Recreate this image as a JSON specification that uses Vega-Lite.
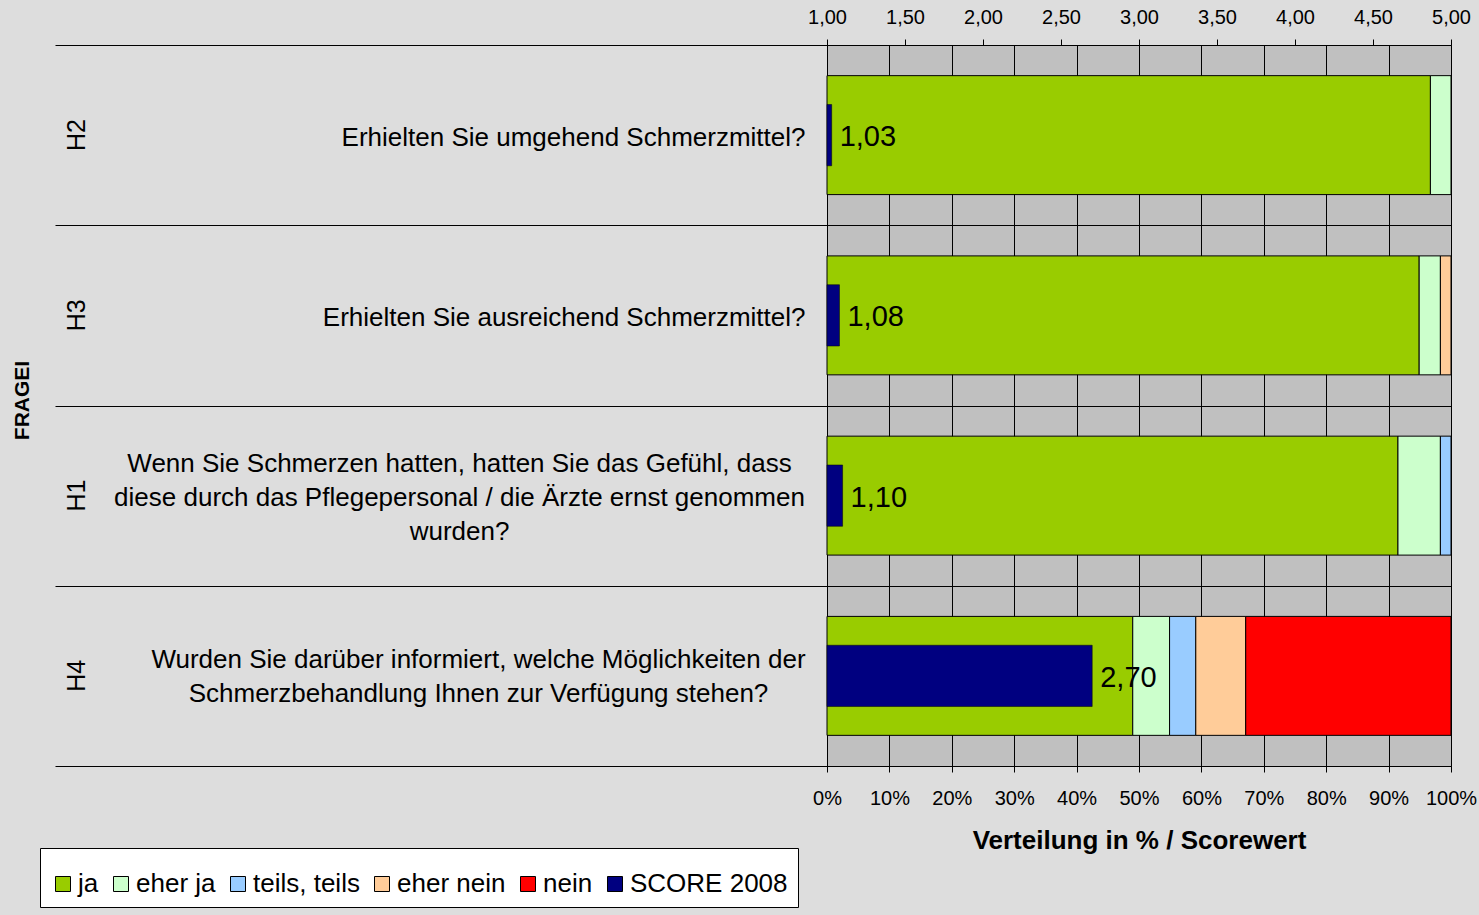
{
  "$schema": "https://vega.github.io/schema/vega-lite/v6.json",
  "width": 624,
  "height": 721,
  "autosize": {"type": "none"},
  "padding": {"left": 827, "top": 45, "right": 28, "bottom": 149},
  "background": "#dddddd",
  "config": {
    "font": "Liberation Sans",
    "view": {"fill": "#c0c0c0", "stroke": "#808080", "strokeWidth": 1},
    "locale": {"number": {"decimal": ",", "thousands": ".", "grouping": [3], "currency": ["", " €"]}},
    "axis": {
      "labelFont": "Liberation Sans",
      "titleFont": "Liberation Sans",
      "labelColor": "black",
      "titleColor": "black",
      "domainColor": "black",
      "tickColor": "black",
      "gridColor": "black",
      "gridOpacity": 1,
      "labelOverlap": false,
      "labelFlush": false,
      "labelBound": false
    }
  },
  "datasets": {
    "verteilung": [
      {"code": "H2", "frage": "Erhielten Sie umgehend Schmerzmittel?", "kategorie": "ja", "stufe": 1, "anteil": 96.7},
      {"code": "H2", "frage": "Erhielten Sie umgehend Schmerzmittel?", "kategorie": "eher ja", "stufe": 2, "anteil": 3.3},
      {"code": "H3", "frage": "Erhielten Sie ausreichend Schmerzmittel?", "kategorie": "ja", "stufe": 1, "anteil": 94.9},
      {"code": "H3", "frage": "Erhielten Sie ausreichend Schmerzmittel?", "kategorie": "eher ja", "stufe": 2, "anteil": 3.4},
      {"code": "H3", "frage": "Erhielten Sie ausreichend Schmerzmittel?", "kategorie": "eher nein", "stufe": 4, "anteil": 1.7},
      {"code": "H1", "frage": "Wenn Sie Schmerzen hatten, hatten Sie das Gefühl, dass\ndiese durch das Pflegepersonal / die Ärzte ernst genommen\nwurden?", "kategorie": "ja", "stufe": 1, "anteil": 91.5},
      {"code": "H1", "frage": "Wenn Sie Schmerzen hatten, hatten Sie das Gefühl, dass\ndiese durch das Pflegepersonal / die Ärzte ernst genommen\nwurden?", "kategorie": "eher ja", "stufe": 2, "anteil": 6.8},
      {"code": "H1", "frage": "Wenn Sie Schmerzen hatten, hatten Sie das Gefühl, dass\ndiese durch das Pflegepersonal / die Ärzte ernst genommen\nwurden?", "kategorie": "teils, teils", "stufe": 3, "anteil": 1.7},
      {"code": "H4", "frage": "Wurden Sie darüber informiert, welche Möglichkeiten der\nSchmerzbehandlung Ihnen zur Verfügung stehen?", "kategorie": "ja", "stufe": 1, "anteil": 49.0},
      {"code": "H4", "frage": "Wurden Sie darüber informiert, welche Möglichkeiten der\nSchmerzbehandlung Ihnen zur Verfügung stehen?", "kategorie": "eher ja", "stufe": 2, "anteil": 5.9},
      {"code": "H4", "frage": "Wurden Sie darüber informiert, welche Möglichkeiten der\nSchmerzbehandlung Ihnen zur Verfügung stehen?", "kategorie": "teils, teils", "stufe": 3, "anteil": 4.2},
      {"code": "H4", "frage": "Wurden Sie darüber informiert, welche Möglichkeiten der\nSchmerzbehandlung Ihnen zur Verfügung stehen?", "kategorie": "eher nein", "stufe": 4, "anteil": 8.0},
      {"code": "H4", "frage": "Wurden Sie darüber informiert, welche Möglichkeiten der\nSchmerzbehandlung Ihnen zur Verfügung stehen?", "kategorie": "nein", "stufe": 5, "anteil": 32.9}
    ],
    "score": [
      {"code": "H2", "serie": "SCORE 2008", "score": 1.03},
      {"code": "H3", "serie": "SCORE 2008", "score": 1.08},
      {"code": "H1", "serie": "SCORE 2008", "score": 1.10},
      {"code": "H4", "serie": "SCORE 2008", "score": 2.70}
    ]
  },
  "layer": [
    {
      "data": {"name": "verteilung"},
      "mark": {"type": "bar", "stroke": "black", "strokeWidth": 1, "height": {"band": 0.66}},
      "encoding": {
        "y": {
          "field": "frage",
          "type": "nominal",
          "sort": [
            "Erhielten Sie umgehend Schmerzmittel?",
            "Erhielten Sie ausreichend Schmerzmittel?",
            "Wenn Sie Schmerzen hatten, hatten Sie das Gefühl, dass\ndiese durch das Pflegepersonal / die Ärzte ernst genommen\nwurden?",
            "Wurden Sie darüber informiert, welche Möglichkeiten der\nSchmerzbehandlung Ihnen zur Verfügung stehen?"
          ],
          "scale": {"paddingInner": 0, "paddingOuter": 0},
          "axis": {
            "orient": "left",
            "title": "FRAGEI",
            "titleFontSize": 21,
            "titleFontWeight": "bold",
            "titleX": -805,
            "titleY": 355,
            "titleAngle": -90,
            "titleAlign": "center",
            "titleBaseline": "middle",
            "labelExpr": "split(datum.label, '\\n')",
            "labelFontSize": 26,
            "labelLineHeight": 34,
            "labelLimit": 800,
            "labelPadding": {
              "condition": [
                {"test": "length(split(datum.label, '\\n')) == 3", "value": -404},
                {"test": "length(split(datum.label, '\\n')) == 2", "value": -423}
              ],
              "value": -750
            },
            "labelAlign": {
              "condition": {"test": "length(split(datum.label, '\\n')) > 1", "value": "center"},
              "value": "right"
            },
            "labelOffset": {
              "condition": [
                {"test": "length(split(datum.label, '\\n')) == 3", "value": -32},
                {"test": "length(split(datum.label, '\\n')) == 2", "value": -16}
              ],
              "value": 2
            },
            "labelBaseline": "middle",
            "tickBand": "extent",
            "tickSize": 772,
            "ticks": true,
            "grid": true,
            "domain": true
          }
        },
        "x": {
          "field": "anteil",
          "type": "quantitative",
          "stack": "normalize",
          "scale": {"domain": [0, 1], "nice": false},
          "axis": {
            "orient": "bottom",
            "values": [0, 0.1, 0.2, 0.3, 0.4, 0.5, 0.6, 0.7, 0.8, 0.9, 1],
            "format": ".0%",
            "grid": true,
            "tickSize": 6,
            "labelFontSize": 20,
            "labelPadding": 16,
            "title": "Verteilung in % / Scorewert",
            "titleFontSize": 26,
            "titleFontWeight": "bold",
            "titlePadding": 19
          }
        },
        "order": {"field": "stufe", "type": "quantitative"},
        "color": {
          "field": "kategorie",
          "type": "nominal",
          "scale": {
            "domain": ["ja", "eher ja", "teils, teils", "eher nein", "nein", "SCORE 2008"],
            "range": ["#99cc00", "#ccffcc", "#99ccff", "#ffcc99", "#ff0000", "#000080"]
          },
          "legend": {
            "orient": "none",
            "legendX": -787,
            "legendY": 803,
            "direction": "horizontal",
            "title": " ",
            "titleFontSize": 9,
            "titlePadding": 4,
            "fillColor": "white",
            "strokeColor": "black",
            "padding": 10,
            "symbolType": "square",
            "symbolSize": 225,
            "symbolStrokeColor": "black",
            "symbolStrokeWidth": 1,
            "symbolOpacity": 1,
            "labelFontSize": 26,
            "labelFont": "Liberation Sans",
            "labelColor": "black",
            "labelOffset": 2,
            "columnPadding": 9,
            "labelLimit": 300
          }
        }
      }
    },
    {
      "data": {"name": "score"},
      "layer": [
        {
          "mark": {"type": "bar", "height": {"band": 0.34}, "stroke": "black", "strokeWidth": 0.5},
          "encoding": {
            "y": {
              "field": "code",
              "type": "nominal",
              "sort": ["H2", "H3", "H1", "H4"],
              "scale": {"paddingInner": 0, "paddingOuter": 0},
              "axis": {
                "orient": "left",
                "title": null,
                "ticks": false,
                "domain": false,
                "grid": false,
                "labelAngle": -90,
                "labelAlign": "center",
                "labelBaseline": "middle",
                "labelPadding": 751,
                "labelFontSize": 25
              }
            },
            "x": {
              "field": "score",
              "type": "quantitative",
              "scale": {"domain": [1, 5], "nice": false, "zero": false},
              "axis": {
                "orient": "top",
                "values": [1, 1.5, 2, 2.5, 3, 3.5, 4, 4.5, 5],
                "format": ".2f",
                "grid": false,
                "tickSize": 6,
                "labelFontSize": 20,
                "labelPadding": 12,
                "title": null,
                "domain": true
              }
            },
            "x2": {"datum": 1},
            "color": {"field": "serie", "type": "nominal"}
          }
        },
        {
          "mark": {"type": "text", "align": "left", "baseline": "middle", "dx": 8, "dy": 2, "fontSize": 29, "color": "black"},
          "encoding": {
            "y": {"field": "code", "type": "nominal", "sort": ["H2", "H3", "H1", "H4"]},
            "x": {"field": "score", "type": "quantitative"},
            "text": {"field": "score", "type": "quantitative", "format": ".2f"}
          }
        }
      ]
    }
  ],
  "resolve": {
    "scale": {"x": "independent", "y": "independent"},
    "axis": {"x": "independent", "y": "independent"}
  }
}
